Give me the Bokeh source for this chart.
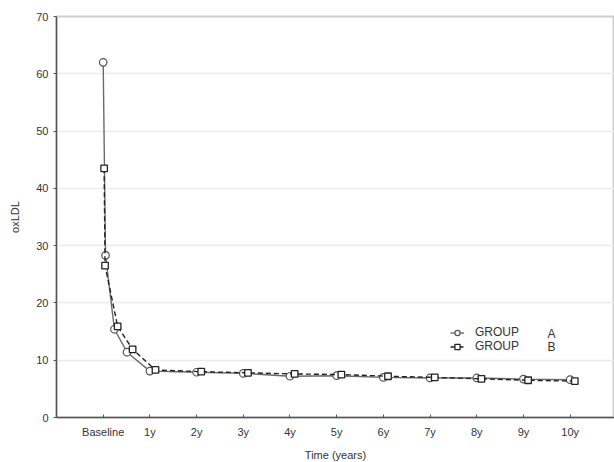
from bokeh.plotting import figure
from bokeh.models import Range1d, FixedTicker, Legend, LegendItem, Label
from bokeh.embed import file_html
from bokeh.resources import INLINE

# Data
tick_labels = ["Baseline", "1y", "2y", "3y", "4y", "5y", "6y", "7y", "8y", "9y", "10y"]
tick_pos = [0, 1, 2, 3, 4, 5, 6, 7, 8, 9, 10]

group_a_x = [0.0, 0.05, 0.24, 0.51, 1.0, 2.0, 3.0, 4.0, 5.0, 6.0, 7.0, 8.0, 9.0, 10.0]
group_a_y = [62.0, 28.3, 15.4, 11.4, 8.1, 7.9, 7.7, 7.2, 7.3, 7.0, 6.9, 6.9, 6.7, 6.6]

group_b_x = [0.02, 0.04, 0.31, 0.63, 1.12, 2.1, 3.1, 4.1, 5.1, 6.1, 7.1, 8.1, 9.1, 10.1]
group_b_y = [43.5, 26.5, 15.9, 11.9, 8.3, 8.0, 7.8, 7.6, 7.5, 7.2, 7.0, 6.75, 6.5, 6.35]

FONT = "Liberation Sans"

p = figure(width=614, height=462, output_backend="svg", toolbar_location=None,
           x_range=Range1d(-1.0, 10.95), y_range=Range1d(0, 70),
           min_border_left=56, min_border_right=0, min_border_top=16, min_border_bottom=45)
p.frame_width = 558
p.frame_height = 401

p.outline_line_color = "#cfcfcf"
p.outline_line_width = 2
p.background_fill_color = "white"
p.border_fill_color = "white"

p.xgrid.grid_line_color = None
p.ygrid.grid_line_color = "#ebebeb"
p.ygrid.grid_line_width = 1.5

# axes
p.xaxis.ticker = FixedTicker(ticks=tick_pos)
p.xaxis.major_label_overrides = {t: l for t, l in zip(tick_pos, tick_labels)}
p.yaxis.ticker = FixedTicker(ticks=[0, 10, 20, 30, 40, 50, 60, 70])
for ax in (p.xaxis[0], p.yaxis[0]):
    ax.axis_line_color = "#555555"
    ax.axis_line_width = 1.5
    ax.major_tick_line_color = "#555555"
    ax.minor_tick_line_color = None
    ax.major_label_text_font = FONT
    ax.major_label_text_font_size = "11px"
    ax.major_label_text_color = "#333333"
    ax.axis_label_text_font = FONT
    ax.axis_label_text_font_size = "11px"
    ax.axis_label_text_font_style = "normal"
    ax.axis_label_text_color = "#333333"

p.xaxis.major_tick_in = 3
p.xaxis.major_tick_out = 0
p.xaxis.major_label_standoff = 8
p.xaxis.axis_label = "Time (years)"
p.xaxis.axis_label_standoff = 8

p.yaxis.major_tick_in = 0
p.yaxis.major_tick_out = 3
p.yaxis.major_label_standoff = 5
p.yaxis.axis_label = "oxLDL"
p.yaxis.axis_label_standoff = 12

# series
la = p.line(group_a_x, group_a_y, line_color="#6a6a6a", line_width=1.4)
sa = p.scatter(group_a_x, group_a_y, marker="circle", size=7.5, fill_color="white",
               line_color="#555555", line_width=1.2)
lb = p.line(group_b_x, group_b_y, line_color="#222222", line_width=1.4, line_dash="5 3")
sb = p.scatter(group_b_x, group_b_y, marker="square", size=6.5, fill_color="white",
               line_color="#222222", line_width=1.3)

legend = Legend(items=[LegendItem(label="GROUP", renderers=[la, sa]),
                       LegendItem(label="GROUP", renderers=[lb, sb])],
                location=(394, 64), orientation="vertical",
                glyph_width=14, glyph_height=13, label_height=13, label_standoff=11,
                spacing=0, padding=0, margin=0,
                border_line_color=None, background_fill_alpha=0,
                label_text_font=FONT, label_text_font_size="12px",
                label_text_color="#333333")
p.add_layout(legend, "center")

for txt, yoff in (("A", 84), ("B", 71)):
    p.add_layout(Label(x=491, y=yoff, x_units="screen", y_units="screen",
                       text=txt, text_font=FONT, text_font_size="12px",
                       text_color="#333333", text_baseline="middle", text_align="left"))

open("out.html", "w").write(file_html(p, INLINE))
